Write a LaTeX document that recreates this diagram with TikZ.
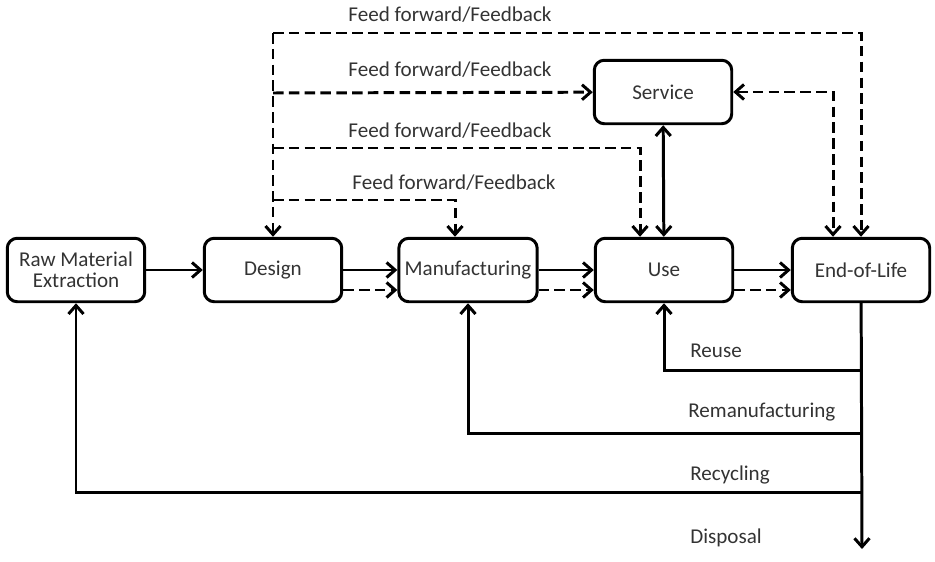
\documentclass[tikz,border=0pt]{standalone}
\usepackage{fontspec}
\setmainfont{Carlito}
\usetikzlibrary{arrows.meta}
\tikzset{
  barb/.tip={Straight Barb[length=1.7mm,width=3mm,line width=1.7pt]},
  stage/.style={draw, line width=1.7pt, rounded corners=0.2cm, minimum width=2.75cm,
    minimum height=1.27cm, align=center, font=\fontsize{12}{14}\selectfont, text=black!80},
  flow/.style={line width=1.7pt, -barb},
  both/.style={line width=1.7pt, barb-barb},
  ffb/.style={flow, dash pattern=on 6pt off 3pt},
  lbl/.style={font=\fontsize{12}{14}\selectfont, text=black!80, inner sep=0pt}
}
\begin{document}
\begin{tikzpicture}[x=0.02cm,y=-0.02cm]
  \useasboundingbox (0,0) rectangle (935,561);
  % stages
  \node[stage] (raw) at (76,270) {Raw Material\\[-2pt]Extraction};
  \node[stage] (design) at (273,270) {Design};
  \node[stage] (manuf) at (468,270) {Manufacturing};
  \node[stage] (use) at (664,270) {Use};
  \node[stage] (eol) at (861,270) {End-of-Life};
  \node[stage] (service) at (663,92) {Service};
  % forward flow
  \draw[flow] (raw) -- (design);
  \draw[flow] (design) -- (manuf);
  \draw[flow] (manuf) -- (use);
  \draw[flow] (use) -- (eol);
  \draw[ffb] ([yshift=-0.4cm]design.east) -- ([yshift=-0.4cm]manuf.west);
  \draw[ffb] ([yshift=-0.4cm]manuf.east) -- ([yshift=-0.4cm]use.west);
  \draw[ffb] ([yshift=-0.4cm]use.east) -- ([yshift=-0.4cm]eol.west);
  % feed forward / feedback
  \coordinate (fb1) at (273,33);
  \coordinate (fb2) at (273,93);
  \coordinate (fb3) at (273,148);
  \coordinate (fb4) at (273,200);
  \draw[ffb] (fb1) -- (design);
  \draw[ffb] (fb1) -| (eol);
  \draw[ffb] (fb2) -- (service);
  \draw[ffb] (fb3) -| ([xshift=-0.48cm]use.north);
  \draw[ffb] (fb4) -| ([xshift=-0.26cm]manuf.north);
  \draw[both, dash pattern=on 6pt off 3pt] (service) -| ([xshift=-0.56cm]eol.north);
  \draw[both] (service) -- (use);
  \node[lbl] at (450,15) {Feed forward/Feedback};
  \node[lbl] at (450,70) {Feed forward/Feedback};
  \node[lbl] at (450,131) {Feed forward/Feedback};
  \node[lbl] at (454,183) {Feed forward/Feedback};
  % end-of-life routes
  \coordinate (reuse) at (862,370);
  \coordinate (reman) at (862,433);
  \coordinate (recyc) at (862,492);
  \coordinate (disp) at (862,549);
  \draw[flow] (eol) -- (disp);
  \draw[flow] (reuse) -| (use);
  \draw[flow] (reman) -| (manuf);
  \draw[flow] (recyc) -| (raw);
  \node[lbl, anchor=west] at (690,351) {Reuse};
  \node[lbl, anchor=west] at (688,412) {Remanufacturing};
  \node[lbl, anchor=west] at (690,475) {Recycling};
  \node[lbl, anchor=west] at (690,538) {Disposal};
\end{tikzpicture}
\end{document}
